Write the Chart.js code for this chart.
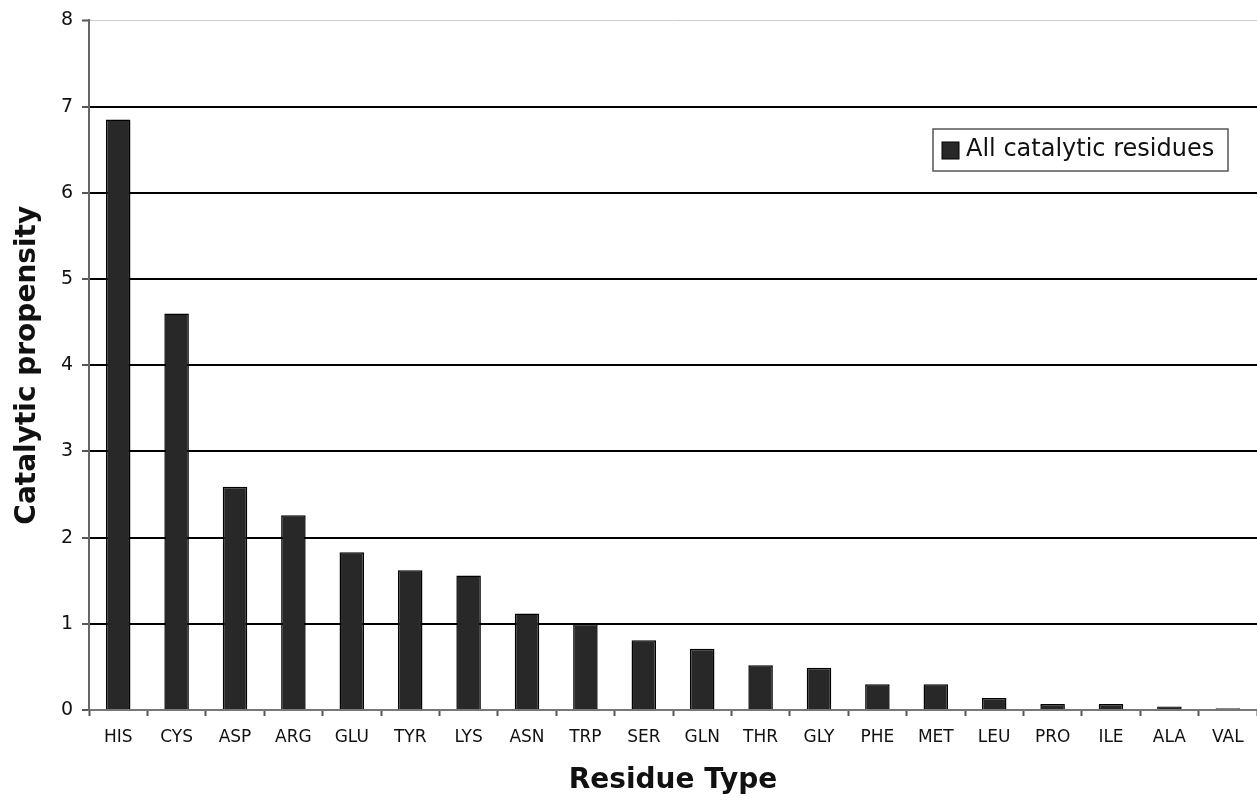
<!DOCTYPE html>
<html>
<head>
<meta charset="utf-8">
<script src="https://cdn.jsdelivr.net/npm/chart.js@4/dist/chart.umd.min.js"></script>
<style>
  html, body { margin: 0; padding: 0; background: #fff; }
  #wrap { width: 1257px; height: 802px; }
</style>
</head>
<body>
<div id="wrap"><canvas id="myChart" width="1257" height="802"></canvas></div>
<script>
// residue types, in the order they appear on the x axis
const residues = ['HIS', 'CYS', 'ASP', 'ARG', 'GLU', 'TYR', 'LYS', 'ASN', 'TRP', 'SER',
                  'GLN', 'THR', 'GLY', 'PHE', 'MET', 'LEU', 'PRO', 'ILE', 'ALA', 'VAL'];
// catalytic propensity
const propensity = [6.85, 4.60, 2.59, 2.26, 1.83, 1.62, 1.56, 1.12, 1.00, 0.81,
                    0.71, 0.52, 0.49, 0.30, 0.30, 0.14, 0.07, 0.07, 0.04, 0.02];
const yTicks = [0, 1, 2, 3, 4, 5, 6, 7, 8];
const seriesLabel = 'All catalytic residues';

const FONT = '"DejaVu Sans", Verdana, sans-serif';

// legend box sitting inside the plot, top right
const insideLegend = {
  id: 'insideLegend',
  afterDraw(chart) {
    const ctx = chart.ctx;
    const ds = chart.data.datasets[0];
    const x = 933, y = 129, w = 295, h = 42;
    ctx.save();
    ctx.fillStyle = '#fff';
    ctx.fillRect(x, y, w, h);
    ctx.strokeStyle = '#555';
    ctx.lineWidth = 1.5;
    ctx.strokeRect(x, y, w, h);
    ctx.fillStyle = ds.backgroundColor;
    ctx.fillRect(x + 9, y + 13, 17, 17);
    ctx.strokeStyle = '#000';
    ctx.lineWidth = 1;
    ctx.strokeRect(x + 9, y + 13, 17, 17);
    ctx.fillStyle = '#111';
    ctx.font = '24px ' + FONT;
    ctx.textBaseline = 'middle';
    ctx.fillText(ds.label, x + 33, y + h / 2);
    ctx.restore();
  }
};

new Chart(document.getElementById('myChart'), {
  type: 'bar',
  data: {
    labels: residues,
    datasets: [{
      label: seriesLabel,
      data: propensity,
      backgroundColor: '#282828',
      borderColor: '#000',
      borderWidth: 1.5,
      categoryPercentage: 1.0,
      barPercentage: 0.42
    }]
  },
  options: {
    responsive: false,
    animation: false,
    layout: { padding: { top: 19, right: 0, left: 0, bottom: 0 } },
    plugins: {
      legend: { display: false },
      tooltip: { enabled: false }
    },
    scales: {
      x: {
        offset: true,
        grid: {
          display: true,
          offset: true,
          drawOnChartArea: false,
          drawTicks: true,
          tickLength: 6,
          tickColor: '#555',
          tickWidth: 2
        },
        border: { display: true, color: '#777', width: 2 },
        ticks: {
          color: '#111',
          font: { family: FONT, size: 17 },
          padding: 11,
          maxRotation: 0,
          autoSkip: false
        },
        title: {
          display: true,
          text: 'Residue Type',
          color: '#111',
          font: { family: FONT, size: 28, weight: 'bold', lineHeight: 1 },
          padding: { top: 0, bottom: 7 }
        },
        afterFit(scale) { scale.height = 92; }
      },
      y: {
        min: 0,
        max: 8,
        afterBuildTicks(scale) { scale.ticks = yTicks.map(v => ({ value: v })); },
        grid: {
          color(c) {
            if (c.tick.value === 0) return '#777';
            if (c.tick.value === 8) return '#ccc';
            return '#000';
          },
          lineWidth(c) { return c.tick.value === 8 ? 1 : 2; },
          tickColor: '#555',
          tickLength: 7,
          tickWidth: 2
        },
        border: { display: true, color: '#666', width: 2 },
        ticks: {
          color: '#111',
          font: { family: FONT, size: 19 },
          padding: 9
        },
        title: {
          display: true,
          text: 'Catalytic propensity',
          color: '#111',
          font: { family: FONT, size: 28, weight: 'bold', lineHeight: 1 },
          padding: { top: 14, bottom: 0 }
        },
        afterFit(scale) { scale.width = 89; }
      }
    }
  },
  plugins: [insideLegend]
});
</script>
</body>
</html>
